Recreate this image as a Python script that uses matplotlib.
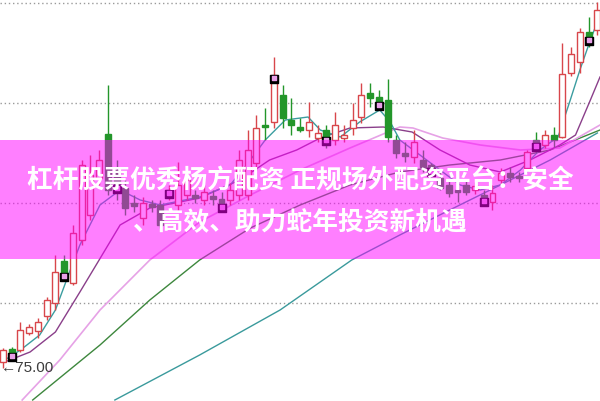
import numpy as np
import matplotlib.pyplot as plt
from matplotlib.patches import Rectangle

# candle data (price units), one entry per trading day
opens  = [75.6, 76.9, 76.8, 78.5, 78.7, 80.2, 81.5, 85.7, 83.5, 87.8,
          90.3, 94.0, 98.4, 94.8, 93.0, 91.5, 90.0, 91.4, 91.3, 92.2,
          91.3, 92.3, 92.3, 91.8, 92.2, 91.9, 91.8, 92.3, 92.3, 95.5,
          99.3, 99.6, 102.3, 99.8, 99.1, 98.8, 98.0, 98.8, 97.8, 98.0,
          99.0, 100.1, 102.5, 102.1, 101.8, 97.8, 96.5, 96.1, 95.8, 95.3,
          94.0, 93.3, 92.8, 93.3, 92.8, 92.3, 91.6, 93.8, 94.5, 94.2,
          95.0, 97.8, 97.3, 98.3, 98.1, 104.5, 105.6, 108.6, 108.8]
closes = [76.8, 76.5, 78.8, 79.1, 79.6, 81.8, 84.6, 84.5, 88.5, 95.3,
          94.3, 95.8, 92.8, 93.3, 91.0, 91.2, 91.5, 91.1, 89.3, 92.8,
          93.3, 93.8, 92.0, 92.6, 91.9, 91.4, 92.8, 95.8, 96.8, 99.0,
          99.1, 104.3, 100.0, 99.3, 98.8, 99.6, 98.5, 98.1, 99.3, 98.3,
          99.8, 102.3, 102.0, 101.6, 98.1, 96.5, 96.2, 97.6, 95.1, 95.0,
          93.0, 92.5, 92.6, 92.6, 93.2, 92.0, 92.5, 94.5, 94.1, 94.0,
          96.6, 97.5, 98.3, 97.8, 104.4, 106.4, 108.6, 108.1, 110.8]
highs  = [77.0, 77.1, 79.6, 79.4, 80.0, 82.1, 86.3, 86.3, 89.3, 95.8,
          96.3, 96.8, 103.3, 95.8, 93.8, 92.3, 92.1, 91.8, 91.8, 93.3,
          95.6, 94.3, 92.8, 93.3, 92.8, 92.6, 93.5, 96.8, 98.8, 100.3,
          101.0, 106.1, 103.3, 102.0, 100.0, 101.6, 99.3, 99.3, 100.6, 99.3,
          101.5, 103.5, 103.5, 102.8, 103.9, 98.3, 97.6, 98.8, 96.8, 95.5,
          94.8, 93.8, 93.6, 93.8, 93.6, 92.8, 93.3, 95.0, 95.1, 94.6,
          96.8, 98.6, 98.8, 99.1, 107.5, 107.1, 109.0, 110.1, 111.6]
lows   = [75.0, 76.0, 76.6, 78.3, 78.0, 79.8, 80.8, 84.0, 83.3, 87.3,
          89.8, 93.3, 92.3, 91.8, 90.3, 90.6, 89.3, 90.6, 89.0, 91.8,
          90.8, 91.8, 91.5, 91.3, 91.3, 91.0, 91.3, 91.8, 91.8, 94.8,
          97.8, 99.0, 99.0, 98.3, 98.6, 98.1, 97.6, 97.0, 97.3, 97.6,
          98.3, 99.5, 101.1, 100.8, 97.6, 96.0, 95.6, 95.5, 94.6, 94.1,
          92.8, 92.1, 91.6, 92.3, 92.4, 91.6, 90.8, 93.3, 93.6, 93.6,
          94.8, 96.5, 97.0, 97.1, 98.0, 104.2, 104.5, 107.1, 108.3]

# moving average lines (day position, price)
ma5_x = [0.2, 2, 4.2, 6, 7.7, 8.8, 11.1, 13.4, 15.7, 18, 22.5, 26, 28.3, 30, 32.3, 34.9,
         36.3, 38.6, 40.8, 43.1, 44.3, 45.4, 47.7, 50, 52.3, 54.6, 56.9, 59.2, 61.4,
         63.5, 64.9, 66, 67.2, 68.3]
ma5_y = [75.8, 76.8, 78.3, 80.8, 84.8, 87.3, 91.3, 92.8, 91.8, 91.3, 92.1, 93.3, 95.8,
         97.8, 99.8, 100.1, 98.8, 98.1, 99.6, 100.8, 99.6, 97.8, 96.3, 94.8, 93.3, 92.8,
         93.3, 94.8, 96.8, 98.1, 101.8, 104.8, 107.8, 110.3]
ma10_x = [0.2, 3.1, 6, 8.8, 11, 13.4, 16.8, 22.5, 27.1, 30.5, 33.6, 36.3, 39.7, 43.5,
          46.8, 50, 53.4, 56.9, 60.3, 63.7, 65.5, 67.2, 68.3]
ma10_y = [75.6, 76.6, 78.6, 82.6, 85.8, 89.3, 91.0, 92.0, 93.8, 95.8, 96.8, 98.0, 99.0,
          99.1, 98.6, 96.8, 95.3, 94.6, 95.8, 97.3, 98.3, 101.8, 104.1]
ma20_x = [2.2, 6.5, 11.1, 16.8, 22.5, 28.3, 34, 39.7, 45.4, 46.9, 50.3, 54.6, 59.2, 63.7, 68.3]
ma20_y = [71.8, 75.8, 80.8, 85.8, 89.6, 92.3, 94.8, 97.0, 99.1, 99.0, 98.0, 97.3, 96.8, 97.0, 99.3]
ma60_x = [3.4, 11.1, 16.8, 22.5, 28.3, 34, 39.7, 45.4, 51.1, 56.9, 62.6, 68.3]
ma60_y = [71.8, 77.3, 81.8, 85.8, 89.0, 91.3, 93.3, 94.6, 95.3, 95.8, 96.8, 98.8]
ma120_x = [12.8, 22.5, 31.7, 39.9, 45.4, 51.1, 56.9, 62.6, 68]
ma120_y = [71.8, 76.3, 80.8, 85.8, 88.3, 90.8, 93.3, 95.8, 98.5]

marker_days = [1, 7, 13, 19, 25, 31, 37, 43, 49, 55, 61, 67]
grid_levels = [81.5, 91.5, 101.5, 111.5]

title_1 = '杠杆股票优秀杨方配资 正规场外配资平台：安全'
title_2 = '、高效、助力蛇年投资新机遇'

up_col = '#d8464b'
down_col = '#23962a'

fig = plt.figure(figsize=(6, 4.01), dpi=100)
ax = fig.add_axes([0, 0, 1, 1])
ax.set_xlim(-0.34, 68.3)
ax.set_ylim(71.7, 111.8)
ax.axis('off')

for g in grid_levels:
    ax.axhline(g, color='#9a9a9a', lw=1, linestyle=(0, (1, 2)), zorder=1)

ax.plot(ma120_x, ma120_y, color='#3a9a9c', lw=1, zorder=2)
ax.plot(ma60_x, ma60_y, color='#3d873d', lw=1, zorder=2)
ax.plot(ma20_x, ma20_y, color='#e6a2e6', lw=1.2, zorder=2)
ax.plot(ma10_x, ma10_y, color='#8a3f8a', lw=1, zorder=2)
ax.plot(ma5_x, ma5_y, color='#3b9da0', lw=1, zorder=2)

days = np.arange(len(opens))
for d in days:
    o, c, h, l = opens[d], closes[d], highs[d], lows[d]
    if c >= o:
        ax.vlines(d, l, h, color=up_col, lw=1, zorder=3)
        ax.bar(d, max(c - o, 0.15), bottom=o, width=0.68, facecolor='white',
               edgecolor=up_col, lw=1, zorder=4)
    else:
        ax.vlines(d, l, h, color=down_col, lw=1, zorder=3)
        ax.bar(d, max(o - c, 0.15), bottom=c, width=0.68, facecolor=down_col,
               edgecolor=down_col, lw=1, zorder=4)

mk_y = [closes[d] - 0.35 for d in marker_days]
ax.scatter(marker_days, mk_y, marker='s', s=30, color='black', zorder=5)
ax.scatter(marker_days, [y + 0.1 for y in mk_y], marker='s', s=10, color='#e9a0e9', zorder=6)

ax.text(-0.2, min(lows), '←75.00', fontsize=11, color='#3c3c3c', va='center', ha='left',
        family=['Liberation Sans', 'DejaVu Sans'], zorder=6)

# semi transparent magenta banner across the middle
fig.patches.append(Rectangle((0, 0.354), 1, 0.297, transform=fig.transFigure,
                             facecolor='#ff00ff', alpha=0.5, edgecolor='none', zorder=10))

fig.text(0.5, 0.549, title_1, color='white', fontsize=18.5, fontweight='bold',
         ha='center', va='center', family=['Noto Sans CJK SC', 'DejaVu Sans'], zorder=11)
fig.text(0.5, 0.446, title_2, color='white', fontsize=18.5, fontweight='bold',
         ha='center', va='center', family=['Noto Sans CJK SC', 'DejaVu Sans'], zorder=11)

fig.savefig('out.png', dpi=100)
